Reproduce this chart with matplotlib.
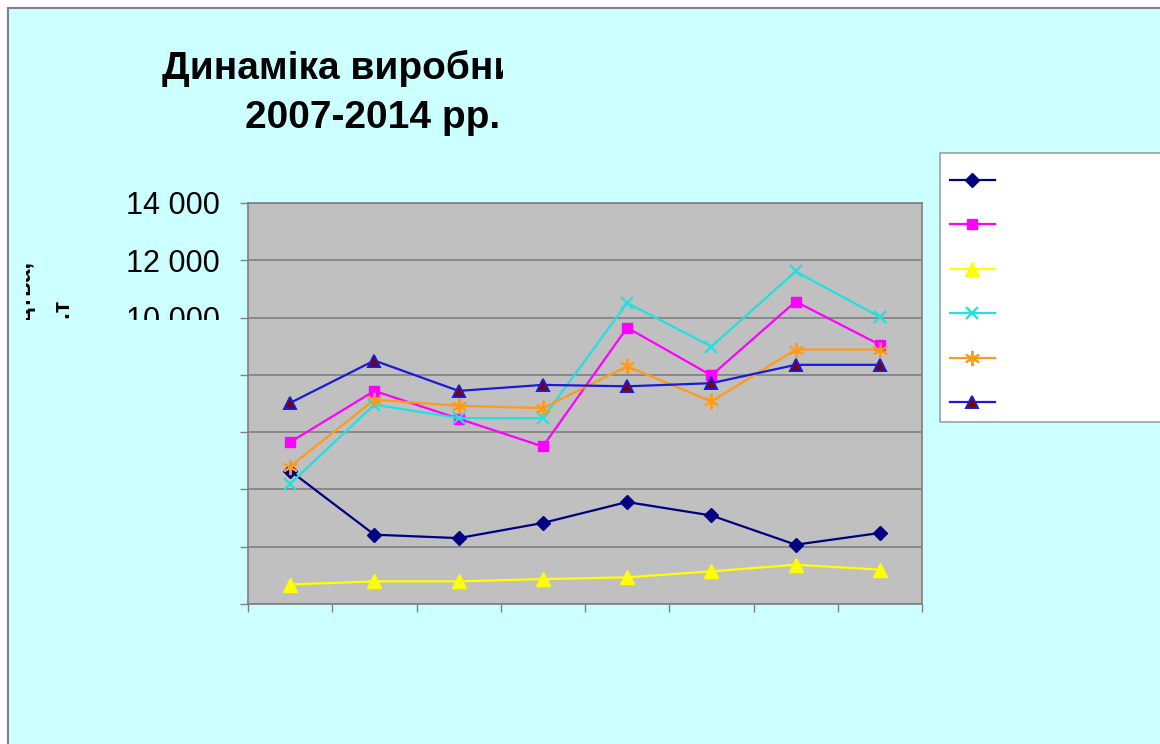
import matplotlib.pyplot as plt
from matplotlib.patches import Rectangle
from matplotlib.ticker import FuncFormatter

years = [2007, 2008, 2009, 2010, 2011, 2012, 2013, 2014]
s1 = [4650, 2420, 2300, 2830, 3560, 3090, 2070, 2480]
s2 = [5650, 7440, 6470, 5500, 9650, 7980, 10560, 9050]
s3 = [680, 790, 790, 870, 930, 1140, 1370, 1200]
s4 = [4200, 6960, 6490, 6490, 10510, 8990, 11610, 10020]
s5 = [4800, 7130, 6920, 6840, 8300, 7070, 8880, 8880]
s6 = [7020, 8500, 7440, 7650, 7600, 7710, 8350, 8350]
yticks = [0, 2000, 4000, 6000, 8000, 10000, 12000, 14000]

W, H = 1160, 744
fig = plt.figure(figsize=(11.6, 7.44), dpi=100, facecolor='white')
plt.rcParams['font.family'] = ['Liberation Sans', 'DejaVu Sans']

# chart area background with border
fig.patches.append(Rectangle((8 / W, -0.1), 1.2, 1 - 8 / H + 0.1, transform=fig.transFigure,
                             facecolor='#CCFFFF', edgecolor='#808080', lw=1.5, zorder=-5))

ax = fig.add_axes([248 / W, 1 - 604 / H, 674 / W, 401 / H], zorder=2)
ax.set_facecolor('#C0C0C0')
for sp in ax.spines.values():
    sp.set_color('#808080')
    sp.set_linewidth(1.2)

x = list(range(len(years)))
l1, = ax.plot(x, s1, color='#000080', marker='D', ms=7, lw=1.6, clip_on=False)
l2, = ax.plot(x, s2, color='#FF00FF', marker='s', ms=7.5, lw=1.6, clip_on=False)
l3, = ax.plot(x, s3, color='#FFFF00', marker='^', ms=10, lw=1.6, clip_on=False)
l4, = ax.plot(x, s4, color='#22E0E0', marker='x', ms=9, mew=1.6, lw=1.6, clip_on=False)
l5, = ax.plot(x, s5, color='#FF9A1A', marker=(6, 2, 0), ms=11, mew=1.4, lw=1.6, clip_on=False)
l6, = ax.plot(x, s6, color='#1A1AD8', marker='^', ms=9, mfc='#800000', mec='#1A1AD8',
              mew=1.4, lw=1.6, clip_on=False)

ax.set_xlim(-0.5, len(years) - 0.5)
ax.set_xticks([i - 0.5 for i in range(len(years) + 1)])
ax.set_xticklabels([])
ax.set_ylim(0, 14000)
ax.set_yticks(yticks)
ax.yaxis.set_major_formatter(FuncFormatter(lambda v, p: '{:,}'.format(int(v)).replace(',', ' ')))
ax.tick_params(axis='both', direction='out', length=6, width=1, color='#808080')
ax.tick_params(axis='y', labelsize=22, pad=14)
ax.yaxis.grid(True, color='#808080', lw=1.2)
ax.set_axisbelow(True)

# left labels are clipped in the original
clip_left = Rectangle((26 / W, 1 - 320 / H), 214 / W, 320 / H, transform=fig.transFigure)
for lbl in ax.get_yticklabels():
    lbl.set_clip_path(clip_left)

t1 = fig.text(31 / W, 1 - 262 / H, 'Обсяг виробництва,', rotation=90, rotation_mode='anchor',
              ha='right', va='baseline', fontsize=17, fontweight='bold')
t2 = fig.text(69 / W, 1 - 300 / H, 'тис.т', rotation=90, rotation_mode='anchor',
              ha='right', va='baseline', fontsize=17, fontweight='bold')
t1.set_clip_path(clip_left)
t2.set_clip_path(clip_left)

# title, cut off on the right
clip_title = Rectangle((0, 0), 503 / W, 1, transform=fig.transFigure)
tt = fig.text(162 / W, 1 - 79 / H, 'Динаміка виробництва', fontsize=28, fontweight='bold',
              ha='left', va='baseline')
tt.set_clip_path(clip_title)
fig.text(245 / W, 1 - 128 / H, '2007-2014 рр.', fontsize=28, fontweight='bold',
         ha='left', va='baseline')

# legend box
fig.patches.append(Rectangle((940 / W, 1 - 422 / H), 0.3, 269 / H, transform=fig.transFigure,
                             facecolor='white', edgecolor='#A0A0A0', lw=1.2, zorder=1))
fig.legend([l1, l2, l3, l4, l5, l6], [' '] * 6, loc='upper left',
           bbox_to_anchor=(950 / W, 1 - 173 / H), frameon=False, borderpad=0,
           borderaxespad=0, handlelength=2.3, fontsize=14, labelspacing=1.38,
           handletextpad=0.3)

fig.savefig('out.png', dpi=100)
